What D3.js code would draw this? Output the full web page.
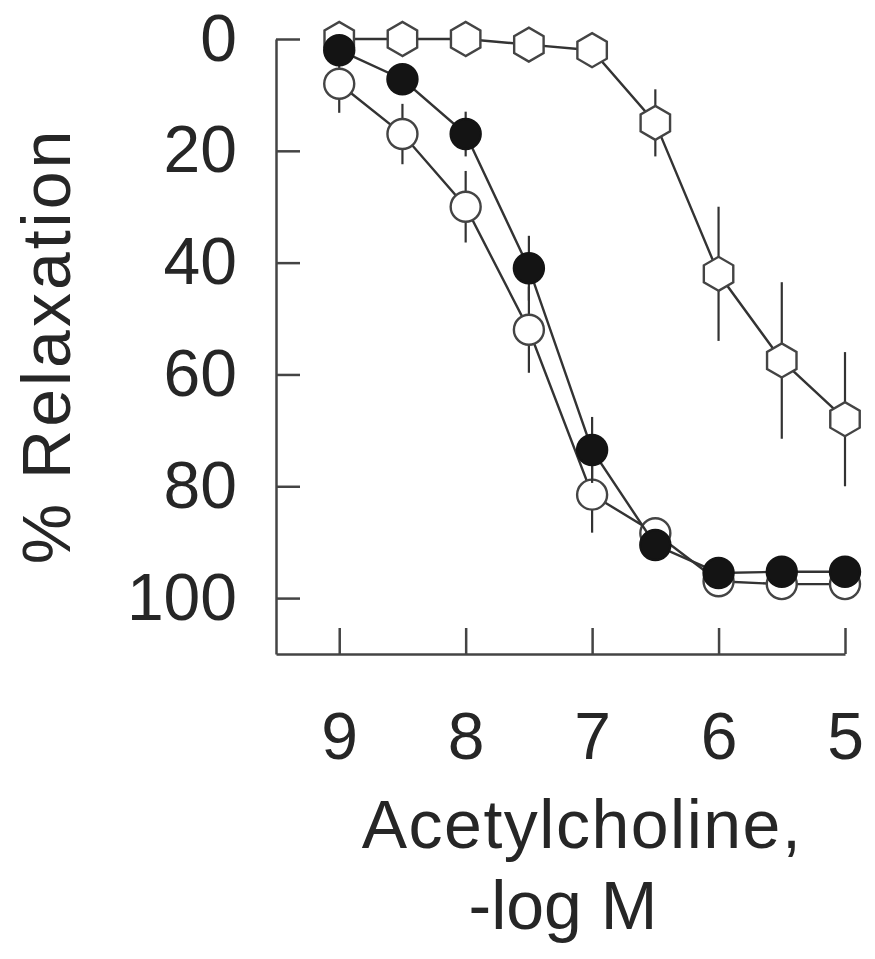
<!DOCTYPE html>
<html>
<head>
<meta charset="utf-8">
<script src="https://cdn.jsdelivr.net/npm/d3@7"></script>
<style>
  html, body { margin: 0; padding: 0; background: #ffffff; }
  svg { display: block; }
  text { font-family: "Liberation Sans", Arial, Helvetica, sans-serif; fill: #262626; }
</style>
</head>
<body>
<svg id="chart" width="875" height="959"></svg>
<script>
// Data (x = -log M acetylcholine; y = % relaxation)
const doses = [9, 8.5, 8, 7.5, 7, 6.5, 6, 5.5, 5];
const hexMean    = [0, 0, 0, 1, 2, 15, 42, 57.5, 68];
const hexSem     = [1, 1, 1, 1, 1, 6, 12, 14, 12];
const openMean   = [8, 17, 30, 52, 81.5, 88.4, 97, 97.5, 97.5];
const openSem    = [5.2, 5.4, 6.4, 7.7, 6.8, 2, 1, 1, 1];
const filledMean = [2, 7.2, 17, 41, 73.5, 90.5, 95.5, 95.3, 95.3];
const filledSem  = [1, 2, 4, 5.8, 5.9, 2, 1, 1, 1];
const xTicks = [9, 8, 7, 6, 5];
const yTicks = [0, 20, 40, 60, 80, 100];

const svg = d3.select("#chart");
const x = d3.scaleLinear().domain([9.5, 5]).range([276, 845]);
const y = d3.scaleLinear().domain([0, 110]).range([39, 654]);

const ink = "#333333";

// Axes
const yAxis = d3.axisLeft(y).tickValues(yTicks).tickFormat(d3.format("d"))
  .tickSizeInner(-24).tickSizeOuter(0).tickPadding(39);
const gy = svg.append("g").attr("transform", "translate(276,0)").call(yAxis);
const xAxis = d3.axisBottom(x).tickValues(xTicks).tickFormat(d3.format("d"))
  .tickSizeInner(-26).tickSizeOuter(0).tickPadding(58);
const gx = svg.append("g").attr("transform", "translate(0,654)").call(xAxis);
[gx, gy].forEach(g => {
  g.select(".domain").attr("stroke", "#444").attr("stroke-width", 2.5);
  g.selectAll(".tick line").attr("stroke", "#444").attr("stroke-width", 2.5);
  g.selectAll(".tick text").attr("font-size", 66).attr("font-family", "Liberation Sans, Arial, sans-serif").attr("fill", "#262626");
});

// Axis titles
svg.append("text")
  .attr("transform", "translate(70,346) rotate(-90)")
  .attr("text-anchor", "middle")
  .attr("font-size", 68)
  .attr("letter-spacing", 3)
  .text("% Relaxation");
svg.append("text")
  .attr("x", 582).attr("y", 848)
  .attr("text-anchor", "middle")
  .attr("font-size", 68)
  .attr("letter-spacing", 1.5)
  .text("Acetylcholine,");
svg.append("text")
  .attr("x", 563).attr("y", 929)
  .attr("text-anchor", "middle")
  .attr("font-size", 68)
  .text("-log M");

function makeSeries(mean, sem) {
  return doses.map((d, i) => ({ dose: d, v: mean[i], s: sem[i] }));
}
const hexData = makeSeries(hexMean, hexSem);
const openData = makeSeries(openMean, openSem);
const filledData = makeSeries(filledMean, filledSem);

const line = d3.line().x(d => x(d.dose)).y(d => y(d.v));

function hexPath(cx, cy, r) {
  const pts = d3.range(6).map(k => {
    const a = Math.PI / 2 + k * Math.PI / 3;
    return [cx + r * Math.cos(a), cy + r * Math.sin(a)];
  });
  return "M" + pts.map(p => p.join(",")).join("L") + "Z";
}

function drawSeries(data, kind) {
  const g = svg.append("g");
  // error bars
  g.selectAll("line.err").data(data).join("line")
    .attr("class", "err")
    .attr("x1", d => x(d.dose)).attr("x2", d => x(d.dose))
    .attr("y1", d => y(d.v - d.s)).attr("y2", d => y(d.v + d.s))
    .attr("stroke", ink).attr("stroke-width", 2.2);
  // connecting line
  g.append("path").datum(data)
    .attr("d", line)
    .attr("fill", "none").attr("stroke", ink).attr("stroke-width", 2.4);
  // markers
  if (kind === "hex") {
    g.selectAll("path.m").data(data).join("path")
      .attr("class", "m")
      .attr("d", d => hexPath(x(d.dose), y(d.v), 17))
      .attr("fill", "#ffffff").attr("stroke", "#444").attr("stroke-width", 2.4);
  } else {
    g.selectAll("circle.m").data(data).join("circle")
      .attr("class", "m")
      .attr("cx", d => x(d.dose)).attr("cy", d => y(d.v)).attr("r", 15)
      .attr("fill", kind === "filled" ? "#141414" : "#ffffff")
      .attr("stroke", kind === "filled" ? "#141414" : "#444").attr("stroke-width", 2.4);
  }
}

drawSeries(hexData, "hex");
drawSeries(openData, "open");
drawSeries(filledData, "filled");
</script>
</body>
</html>
